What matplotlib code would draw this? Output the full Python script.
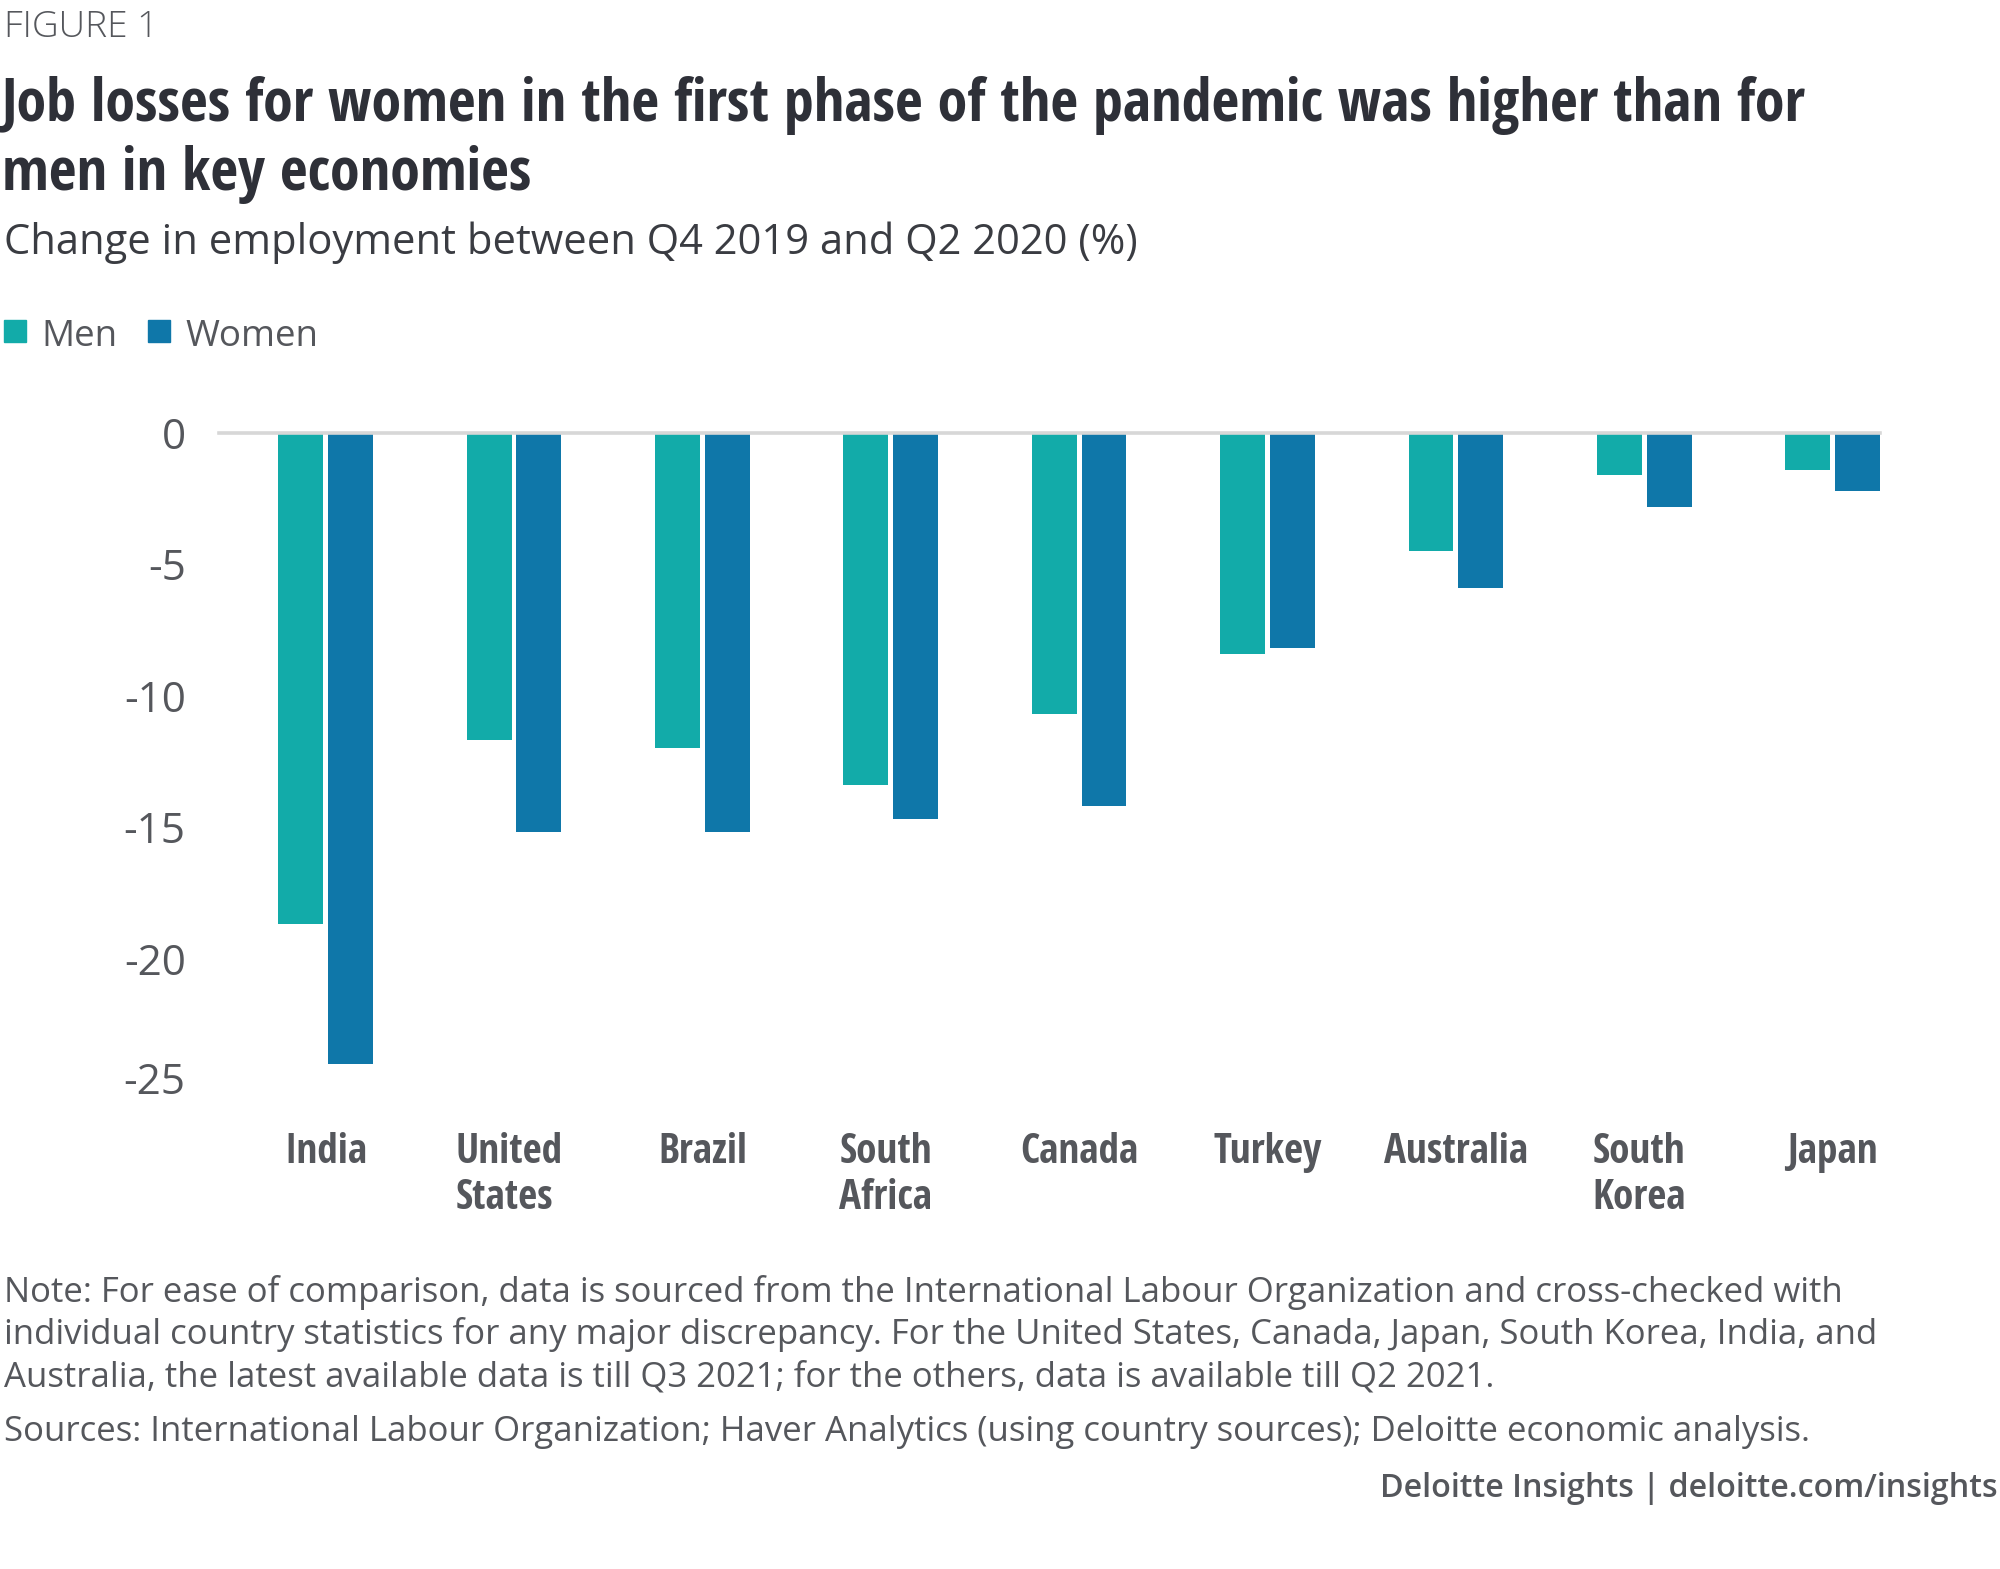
import matplotlib
matplotlib.use('Agg')
import matplotlib.pyplot as plt
from matplotlib import font_manager as fm
from matplotlib.patches import Rectangle
from matplotlib.transforms import blended_transform_factory, ScaledTranslation
import numpy as np

# --- data ---
countries = ['India', 'United\nStates', 'Brazil', 'South\nAfrica', 'Canada',
             'Turkey', 'Australia', 'South\nKorea', 'Japan']
men = [-18.7, -11.7, -12.0, -13.4, -10.7, -8.4, -4.5, -1.6, -1.4]
women = [-24.0, -15.2, -15.2, -14.7, -14.2, -8.2, -5.9, -2.8, -2.2]
yticks = [0, -5, -10, -15, -20, -25]

title_lines = ['Job losses for women in the first phase of the pandemic was higher than for',
               'men in key economies']
subtitle = 'Change in employment between Q4 2019 and Q2 2020 (%)'
note_lines = ['Note: For ease of comparison, data is sourced from the International Labour Organization and cross-checked with',
              'individual country statistics for any major discrepancy. For the United States, Canada, Japan, South Korea, India, and',
              'Australia, the latest available data is till Q3 2021; for the others, data is available till Q2 2021.']
sources = 'Sources: International Labour Organization; Haver Analytics (using country sources); Deloitte economic analysis.'
footer = 'Deloitte Insights | deloitte.com/insights'

MEN_C = '#12aba9'
WOMEN_C = '#0f77a9'
TITLE_C = '#2e3038'
GRAY = '#55575c'

# pick a condensed bold face if one is installed
names = {f.name for f in fm.fontManager.ttflist}
cond_family, cond_stretch = 'Roboto', 'normal'
for cand in ['Open Sans Condensed', 'Roboto Condensed', 'Liberation Sans Narrow']:
    if cand in names:
        cond_family = cand
        break
else:
    if any(f.name == 'DejaVu Sans' and f.stretch == 'condensed' for f in fm.fontManager.ttflist):
        cond_family, cond_stretch = 'DejaVu Sans', 'condensed'
body = 'Open Sans' if 'Open Sans' in names else 'DejaVu Sans'

W, H = 2000, 1569
fig = plt.figure(figsize=(W / 100, H / 100), dpi=100)
renderer = fig.canvas.get_renderer()


def fy(y):
    return 1 - y / H


def fit(t, target):
    w = t.get_window_extent(renderer).width
    t.set_fontsize(t.get_fontsize() * target / w)
    return t.get_fontsize()


def btext(x, y, s, **kw):
    kw.setdefault('family', body)
    kw.setdefault('color', GRAY)
    kw.setdefault('va', 'baseline')
    return fig.text(x / W, fy(y), s, fontsize=20, **kw)


# header
t = btext(4, 37, 'FIGURE 1', weight='light')
fit(t, 154)
t1 = btext(2, 121, title_lines[0], family=cond_family, fontstretch=cond_stretch,
           weight='bold', color=TITLE_C)
ts = fit(t1, 1805)
t2 = btext(2, 190, title_lines[1], family=cond_family, fontstretch=cond_stretch,
           weight='bold', color=TITLE_C)
t2.set_fontsize(ts)
t = btext(4, 254, subtitle, color='#3a3c42')
fit(t, 1131)

# legend
leg_texts = []
for x0, xt, lab, c in [(4, 41, 'Men', MEN_C), (148, 185, 'Women', WOMEN_C)]:
    fig.patches.append(Rectangle((x0 / W, fy(342)), 22 / W, 22 / H,
                                 transform=fig.transFigure, color=c))
    leg_texts.append(btext(xt, 346, lab))
lsz = fit(leg_texts[1], 133)
leg_texts[0].set_fontsize(lsz)

# axes
ax = fig.add_axes([219 / W, fy(1090), (1880 - 219) / W, (1090 - 433) / H])
x = np.arange(len(countries))
bw = 0.238
off = 0.132
ax.bar(x - off, men, bw, color=MEN_C, zorder=2)
ax.bar(x + off, women, bw, color=WOMEN_C, zorder=2)
ax.axhline(0, color='#d7d7d7', lw=2.6, zorder=3, clip_on=False)
ax.set_xlim(-0.566, len(countries) - 1 + off + bw / 2)
ax.set_ylim(-25, 0)
for s in ax.spines.values():
    s.set_visible(False)
ax.set_xticks([])
ax.set_yticks(yticks)

# tick label size fitted to '-25' width
tmp = fig.text(0, 0, '-25', family=body, fontsize=20)
tsz = fit(tmp, 62)
tmp.remove()
ax.set_yticklabels([str(v) for v in yticks], family=body, fontsize=tsz, color=GRAY)
ax.tick_params(axis='y', length=0, pad=24)
# the bottom label sits a little higher in the original
lab = ax.get_yticklabels()[-1]
lab.set_transform(lab.get_transform() + ScaledTranslation(0, 12 / 100, fig.dpi_scale_trans))

# category labels, two lines left-aligned and block centred on group
tr = blended_transform_factory(ax.transData, fig.transFigure)
tmp = fig.text(0, 0, 'Australia', family=cond_family, fontstretch=cond_stretch,
               weight='bold', fontsize=20)
csz = fit(tmp, 144)
tmp.remove()
inv = ax.transData.inverted()
for i, name in enumerate(countries):
    lines = name.split('\n')
    objs = []
    for j, ln in enumerate(lines):
        objs.append(ax.text(i, fy(1163 + 46 * j), ln, transform=tr, family=cond_family,
                            fontstretch=cond_stretch, weight='bold', fontsize=csz,
                            color=GRAY, ha='left', va='baseline'))
    wmax = max(o.get_window_extent(renderer).width for o in objs)
    x0_px = ax.transData.transform((i, 0))[0] - wmax / 2 - (5 if len(lines) > 1 else 0)
    xd = inv.transform((x0_px, 0))[0]
    for o in objs:
        o.set_x(xd)

# notes
nts = []
for k, ln in enumerate(note_lines):
    nts.append(btext(4, 1302 + 42 * k, ln))
nsz = fit(nts[1], 1866)
for o in nts:
    o.set_fontsize(nsz)
t = btext(4, 1441, sources)
t.set_fontsize(nsz)
t = btext(1998, 1497, footer, ha='right', weight='semibold')
fit(t, 617)

fig.savefig('out.png', dpi=100, facecolor='white')
